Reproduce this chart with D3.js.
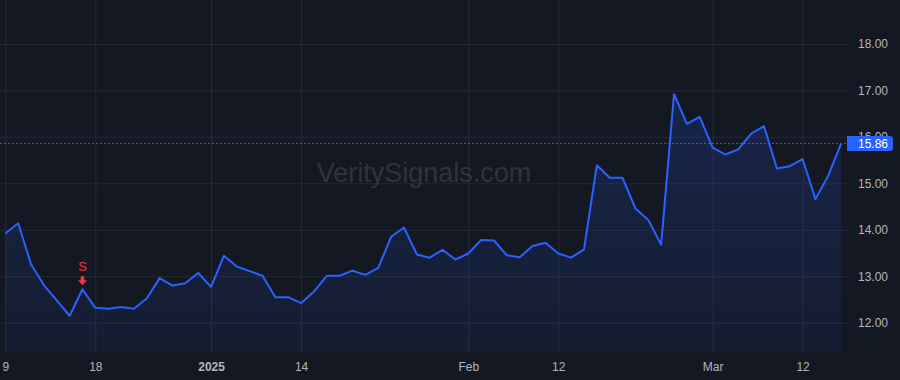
<!DOCTYPE html>
<html>
<head>
<meta charset="utf-8">
<script src="https://cdn.jsdelivr.net/npm/d3@7"></script>
<style>
  html, body { margin: 0; padding: 0; background: #141823; }
  svg { display: block; font-family: "Liberation Sans", Arial, sans-serif; }
</style>
</head>
<body>
<div id="container"></div>
<script>
// trading days, Dec 9 2024 .. Mar 17 2025
var dates = [
  "2024-12-09","2024-12-10","2024-12-11","2024-12-12","2024-12-13","2024-12-16","2024-12-17","2024-12-18",
  "2024-12-19","2024-12-20","2024-12-23","2024-12-24","2024-12-26","2024-12-27","2024-12-30","2024-12-31",
  "2025-01-02","2025-01-03","2025-01-06","2025-01-07","2025-01-08","2025-01-10","2025-01-13","2025-01-14",
  "2025-01-15","2025-01-16","2025-01-17","2025-01-21","2025-01-22","2025-01-23","2025-01-24","2025-01-27",
  "2025-01-28","2025-01-29","2025-01-30","2025-01-31","2025-02-03","2025-02-04","2025-02-05","2025-02-06",
  "2025-02-07","2025-02-10","2025-02-11","2025-02-12","2025-02-13","2025-02-14","2025-02-18","2025-02-19",
  "2025-02-20","2025-02-21","2025-02-24","2025-02-25","2025-02-26","2025-02-27","2025-02-28","2025-03-03",
  "2025-03-04","2025-03-05","2025-03-06","2025-03-07","2025-03-10","2025-03-11","2025-03-12","2025-03-13",
  "2025-03-14","2025-03-17"
];
var closes = [
  13.92, 14.14, 13.26, 12.81, 12.48, 12.15, 12.72, 12.32,
  12.30, 12.34, 12.30, 12.52, 12.96, 12.80, 12.85, 13.07,
  12.77, 13.44, 13.21, 13.11, 13.01, 12.55, 12.55, 12.42,
  12.67, 13.01, 13.01, 13.12, 13.03, 13.18, 13.85, 14.05,
  13.47, 13.40, 13.57, 13.36, 13.49, 13.78, 13.77, 13.45,
  13.41, 13.65, 13.72, 13.49, 13.40, 13.58, 15.39, 15.12,
  15.12, 14.46, 14.21, 13.68, 16.92, 16.28, 16.43, 15.77,
  15.62, 15.73, 16.07, 16.23, 15.32, 15.37, 15.52, 14.66,
  15.17, 15.86
];
var tickDates = ["2024-12-09","2024-12-18","2025-01-02","2025-01-14","2025-02-03","2025-02-12","2025-03-03","2025-03-12"];
var tickLabels = ["9","18","2025","14","Feb","12","Mar","12"];
var priceTicks = [12, 13, 14, 15, 16, 17, 18];
var signalDates = ["2024-12-17"];
var signalLabels = ["S"];

var width = 900, height = 380;
var plotW = 848, plotH = 352;

var svg = d3.select("#container").append("svg")
    .attr("width", width)
    .attr("height", height);

var x = d3.scaleLinear().domain([0, dates.length - 1]).range([5.3, 841.2]);
var y = d3.scaleLinear().domain([12, 18]).range([322.7, 44]);

var defs = svg.append("defs");
var grad = defs.append("linearGradient")
    .attr("id", "areaGrad")
    .attr("gradientUnits", "userSpaceOnUse")
    .attr("x1", 0).attr("y1", 0).attr("x2", 0).attr("y2", plotH);
grad.append("stop").attr("offset", "0%").attr("stop-color", "#2962ff").attr("stop-opacity", 0.22);
grad.append("stop").attr("offset", "100%").attr("stop-color", "#2962ff").attr("stop-opacity", 0.06);

svg.append("rect")
    .attr("width", width).attr("height", height)
    .attr("fill", "#141823");

// grid
var xAxis = d3.axisBottom(x)
    .tickValues(tickDates.map(function(d) { return dates.indexOf(d); }))
    .tickSize(plotH)
    .tickFormat("");
svg.append("g")
    .attr("class", "x grid")
    .call(xAxis)
    .call(function(g) { g.select(".domain").remove(); })
    .selectAll("line").attr("stroke", "#252a36");

var yGrid = d3.axisRight(y)
    .tickValues(priceTicks)
    .tickSize(plotW)
    .tickFormat("");
svg.append("g")
    .attr("class", "y grid")
    .call(yGrid)
    .call(function(g) { g.select(".domain").remove(); })
    .selectAll("line").attr("stroke", "#252a36");

// watermark
svg.append("text")
    .attr("x", 424)
    .attr("y", 182)
    .attr("text-anchor", "middle")
    .attr("font-size", 27)
    .attr("fill", "#ffffff")
    .attr("fill-opacity", 0.12)
    .text("VeritySignals.com");

// area + line
var data = closes.map(function(c, i) { return { i: i, v: c }; });

var area = d3.area()
    .x(function(d) { return x(d.i); })
    .y0(plotH)
    .y1(function(d) { return y(d.v); });

var line = d3.line()
    .x(function(d) { return x(d.i); })
    .y(function(d) { return y(d.v); });

svg.append("path")
    .datum(data)
    .attr("d", area)
    .attr("fill", "url(#areaGrad)");

svg.append("path")
    .datum(data)
    .attr("d", line)
    .attr("fill", "none")
    .attr("stroke", "#2962ff")
    .attr("stroke-width", 2)
    .attr("stroke-linejoin", "round");

// last price line
var last = closes[closes.length - 1];
svg.append("line")
    .attr("x1", 0).attr("x2", plotW)
    .attr("y1", y(last)).attr("y2", y(last))
    .attr("stroke", "#2962ff")
    .attr("stroke-width", 1)
    .attr("stroke-dasharray", "2,2");

// price axis labels
var yAxis = d3.axisRight(y)
    .tickValues(priceTicks)
    .tickSize(0)
    .tickPadding(10)
    .tickFormat(d3.format(".2f"));
var ya = svg.append("g")
    .attr("transform", "translate(" + plotW + ",0)")
    .call(yAxis);
ya.select(".domain").remove();
ya.selectAll("text")
    .attr("fill", "#b2b5be")
    .attr("font-size", 12)
    .attr("font-family", "Liberation Sans, Arial, sans-serif");

// last price badge
var badge = svg.append("g").attr("transform", "translate(" + plotW + "," + y(last) + ")");
badge.append("path")
    .attr("d", "M-1,-7.5 H42 a3,3 0 0 1 3,3 V4.5 a3,3 0 0 1 -3,3 H-1 Z")
    .attr("fill", "#2962ff");
badge.append("text")
    .attr("x", 10)
    .attr("y", 4.3)
    .attr("fill", "#ffffff")
    .attr("font-size", 12)
    .text(last.toFixed(2));

// time axis labels
var xLabels = d3.axisBottom(x)
    .tickValues(tickDates.map(function(d) { return dates.indexOf(d); }))
    .tickSize(0)
    .tickPadding(10)
    .tickFormat(function(d, i) { return tickLabels[i]; });
var xa = svg.append("g")
    .attr("transform", "translate(0," + plotH + ")")
    .call(xLabels);
xa.select(".domain").remove();
xa.selectAll("text")
    .attr("fill", "#b2b5be")
    .attr("font-size", 12)
    .attr("font-family", "Liberation Sans, Arial, sans-serif")
    .attr("font-weight", function(d, i) { return tickLabels[i] === "2025" ? "bold" : "normal"; });

// signal markers
signalDates.forEach(function(sd, k) {
    var idx = dates.indexOf(sd);
    var cx = x(idx), cy = y(closes[idx]);
    var g = svg.append("g").attr("transform", "translate(" + cx + "," + cy + ")");
    g.append("path")
        .attr("d", "M-1.8,-13 H1.8 V-9 H4.5 L0,-4 L-4.5,-9 H-1.8 Z")
        .attr("fill", "#f23645");
    g.append("text")
        .attr("x", 0)
        .attr("y", -18.5)
        .attr("text-anchor", "middle")
        .attr("fill", "#f23645")
        .attr("font-size", 13)
        .text(signalLabels[k]);
});
</script>
</body>
</html>
